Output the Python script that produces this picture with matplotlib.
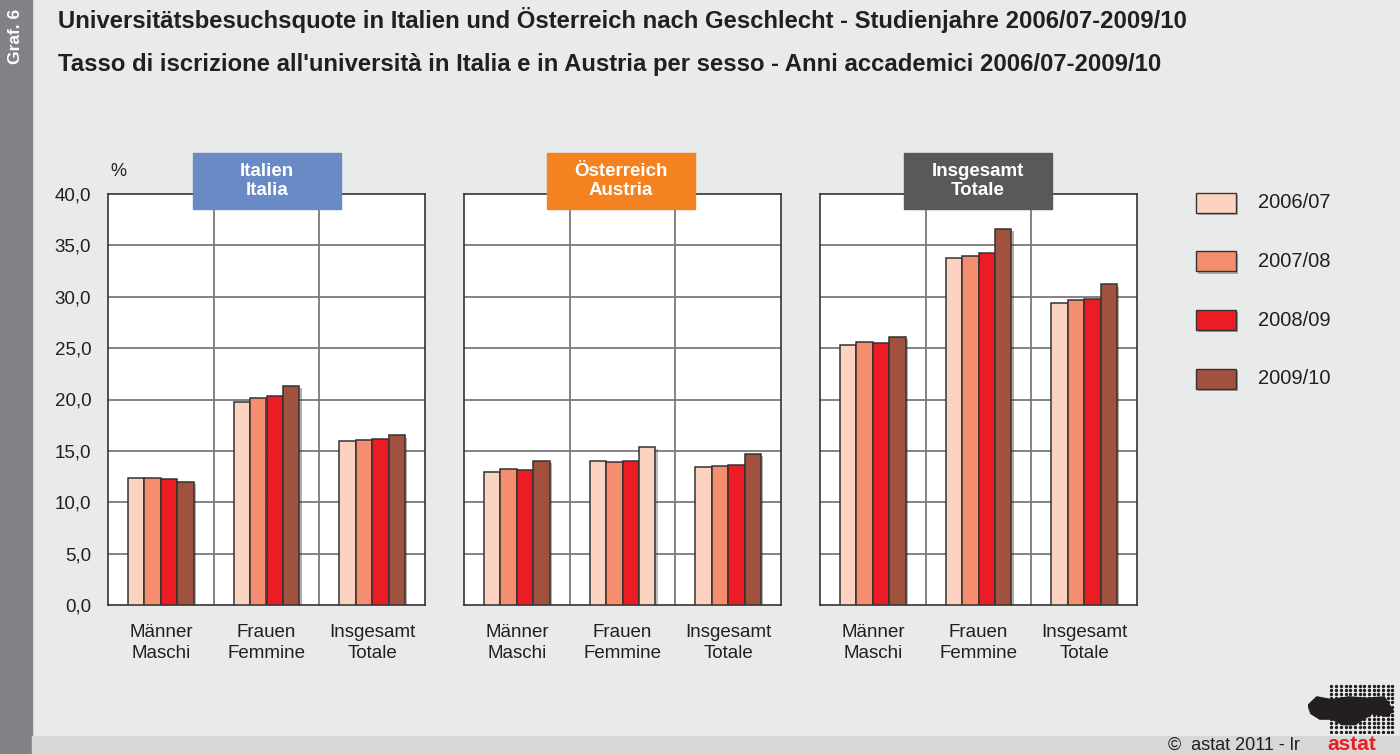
import matplotlib.pyplot as plt
import matplotlib.patheffects as pe
import numpy as np

plt.rcParams['font.family'] = ['Liberation Sans', 'DejaVu Sans']

# Data
years = ['2006/07', '2007/08', '2008/09', '2009/10']
groups = ['Männer\nMaschi', 'Frauen\nFemmine', 'Insgesamt\nTotale']
regions = ['Italien\nItalia', 'Österreich\nAustria', 'Insgesamt\nTotale']

# rows = years, columns = groups
italia = [[12.4, 19.8, 16.0],
          [12.4, 20.1, 16.1],
          [12.3, 20.3, 16.2],
          [12.0, 21.3, 16.5]]
austria = [[12.9, 14.0, 13.4],
           [13.2, 13.9, 13.5],
           [13.1, 14.0, 13.6],
           [14.0, 15.4, 14.7]]
totale = [[25.3, 33.8, 29.4],
          [25.6, 34.0, 29.7],
          [25.5, 34.3, 29.8],
          [26.1, 36.6, 31.2]]

yticks = np.arange(0, 41, 5)

colors = ['#fcd2c0', '#f48e6e', '#ec1c24', '#a0523f']
head_colors = ['#6a8ac6', '#f58220', '#58595b']
bg = '#e9eaea'

W, H = 1400, 754
fig = plt.figure(figsize=(W / 100, H / 100), dpi=100, facecolor=bg)


def box(x0, y0, x1, y1):
    # pixel box (top-left origin) -> figure fraction
    return [x0 / W, 1 - y1 / H, (x1 - x0) / W, (y1 - y0) / H]


# left strip and bottom strip
fig.patches.append(plt.Rectangle((0, 0), 32 / W, 1, transform=fig.transFigure,
                                 color='#808285', zorder=0))
fig.patches.append(plt.Rectangle((32 / W, 0), 1, 18 / H, transform=fig.transFigure,
                                 color='#d6d7d7', zorder=0))
fig.text(16 / W, 1 - 36 / H, 'Graf. 6', rotation=90, color='white', fontsize=12.5,
         fontweight='bold', ha='center', va='center')

fig.text(58 / W, 1 - 20 / H,
         'Universitätsbesuchsquote in Italien und Österreich nach Geschlecht - Studienjahre 2006/07-2009/10',
         fontsize=17.2, fontweight='bold', color='#231f20', va='center')
fig.text(58 / W, 1 - 65 / H,
         "Tasso di iscrizione all'università in Italia e in Austria per sesso - Anni accademici 2006/07-2009/10",
         fontsize=17.2, fontweight='bold', color='#231f20', va='center')

panel_x = [108, 464, 820]
pw = 317
bw = 0.156
offsets = (np.arange(4) - 1.5) * bw
x = np.arange(3) + 0.5
shadow = [pe.SimplePatchShadow(offset=(1.5, -1.5), alpha=0.35), pe.Normal()]

for p, (data, name, hc) in enumerate(zip([italia, austria, totale], regions, head_colors)):
    ax = fig.add_axes(box(panel_x[p], 194, panel_x[p] + pw, 605))
    ax.set_facecolor('white')
    for i, year in enumerate(years):
        cols = [colors[i]] * 3
        if p == 1 and i == 3:
            cols[1] = colors[0]  # as in the original chart
        ax.bar(x + offsets[i], data[i], width=bw, color=cols, edgecolor='#333333',
               linewidth=1.1, label=year, zorder=3, path_effects=shadow)
    ax.set_xlim(0, 3)
    ax.set_ylim(0, 40)
    ax.set_yticks(yticks)
    for yv in yticks[1:-1]:
        ax.axhline(yv, color='#7a7a7a', lw=1.3, zorder=1)
    for xv in [1, 2]:
        ax.axvline(xv, color='#7a7a7a', lw=1.3, zorder=1)
    ax.set_xticks(x)
    ax.set_xticklabels(groups, fontsize=13.5, color='#231f20', linespacing=1.25)
    ax.tick_params(length=0, pad=14)
    if p == 0:
        ax.set_yticklabels([f'{v:.1f}'.replace('.', ',') for v in yticks],
                           fontsize=13.5, color='#231f20')
        ax.tick_params(axis='y', pad=12)
    else:
        ax.set_yticklabels([])
    for s in ax.spines.values():
        s.set_color('#333333')
        s.set_linewidth(1.2)

    hx = [193, 547, 904][p]
    fig.patches.append(plt.Rectangle((hx / W, 1 - 209 / H), 148 / W, 56 / H,
                                     transform=fig.transFigure, color=hc, zorder=5))
    fig.text((hx + 74) / W, 1 - 181 / H, name, color='white', fontsize=13.5,
             fontweight='bold', ha='center', va='center', linespacing=1.2, zorder=6)

fig.text(110 / W, 1 - 172 / H, '%', fontsize=13, color='#231f20', va='center')

# legend
for i, year in enumerate(years):
    yc = 203 + i * 58.5
    fig.patches.append(plt.Rectangle((1196 / W, 1 - (yc + 10) / H), 40 / W, 20 / H,
                                     transform=fig.transFigure, facecolor=colors[i],
                                     edgecolor='#333333', lw=1.0, zorder=5,
                                     path_effects=shadow))
    fig.text(1258 / W, 1 - yc / H, year, fontsize=14.5, color='#231f20', va='center')

# footer
fig.text(1168 / W, 1 - 745 / H, '©  astat 2011 - lr', fontsize=13, color='#231f20',
         va='center')
fig.text(1352 / W, 1 - 745 / H, 'astat', fontsize=15, color='#ec1c24', fontweight='bold',
         va='center', ha='center')

# logo dots
lax = fig.add_axes(box(1308, 683, 1396, 733))
lax.set_xlim(0, 30)
lax.set_ylim(0, 18)
lax.axis('off')
gx, gy = np.meshgrid(np.arange(8, 30, 1.6), np.arange(0.5, 18, 1.5))
lax.scatter(gx.ravel(), gy.ravel(), s=2, color='#231f20')
lax.fill([0, 3, 8, 14, 20, 26, 29, 27, 22, 16, 12, 8, 4, 1],
         [10, 13, 12, 13, 12.5, 13, 8, 6, 7, 3, 3, 5, 5, 7], color='#231f20')

fig.savefig('out.png', dpi=100, facecolor=bg)
